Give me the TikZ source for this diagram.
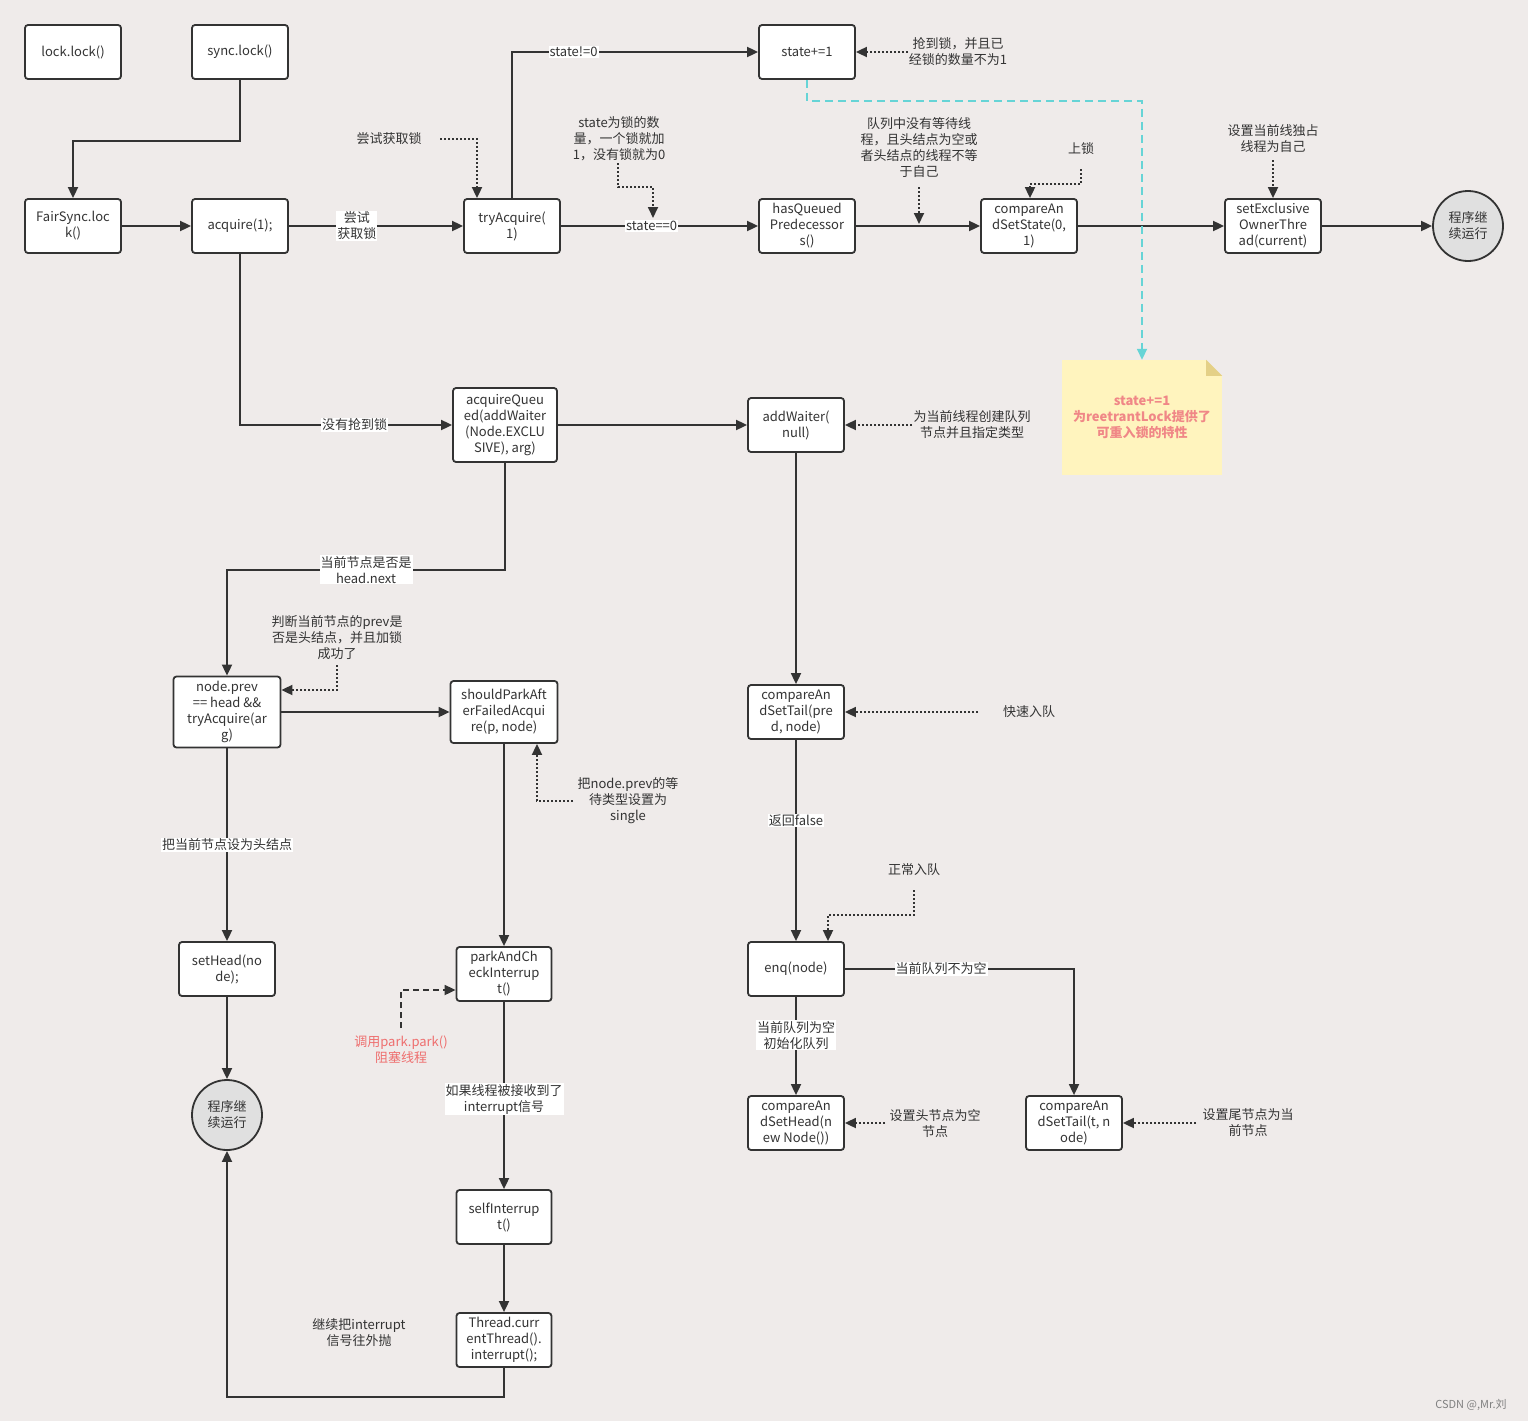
\documentclass[tikz,border=0pt]{standalone}
\usepackage{fontspec}
\setmainfont{Noto Sans CJK SC}
\usetikzlibrary{arrows.meta,calc}
\definecolor{bg}{RGB}{239,235,234}
\definecolor{linec}{RGB}{51,51,51}
\definecolor{txt}{RGB}{51,51,51}
\definecolor{cyanl}{RGB}{102,212,214}
\definecolor{notey}{RGB}{255,244,190}
\definecolor{notef}{RGB}{228,208,135}
\definecolor{pinkt}{RGB}{240,135,135}
\definecolor{redt}{RGB}{238,110,110}
\definecolor{circg}{RGB}{224,224,224}
\begin{document}
\begin{tikzpicture}[x=1pt,y=-1pt,
  every node/.style={font=\fontsize{13}{16}\selectfont, text=txt},
  box/.style={draw=linec, line width=1.8pt, rounded corners=3pt, fill=white, minimum width=96pt, minimum height=54pt, align=center, inner sep=1pt},
  circ/.style={draw=linec, line width=1.8pt, circle, fill=circg, minimum size=70pt, align=center, inner sep=0pt},
  arr/.style={draw=linec, line width=1.8pt, -{Triangle[length=11pt,width=10pt]}},
  dotarr/.style={draw=linec, line width=1.8pt, dash pattern=on 2pt off 2pt, -{Triangle[length=11pt,width=10pt]}},
  dasharr/.style={draw=linec, line width=1.8pt, dash pattern=on 6pt off 4pt, -{Triangle[length=11pt,width=10pt]}},
  lbl/.style={fill=white, inner sep=1pt, align=center},
  ann/.style={align=center, inner sep=1pt},
]
\fill[bg] (0,0) rectangle (1528,1421);
\useasboundingbox (0,0) rectangle (1528,1421);

% main nodes
\node[box] (lock) at (73,52) {lock.lock()};
\node[box] (sync) at (240,52) {sync.lock()};
\node[box] (fair) at (73,226) {FairSync.loc\\k()};
\node[box] (acq) at (240,226) {acquire(1);};
\node[box] (try) at (512,226) {tryAcquire(\\1)};
\node[box] (st1) at (807,52) {state+=1};
\node[box] (hqp) at (807,226) {hasQueued\\Predecessor\\s()};
\node[box] (cas) at (1029,226) {compareAn\\dSetState(0,\\1)};
\node[box] (seo) at (1273,226) {setExclusive\\OwnerThre\\ad(current)};
\node[circ] (run1) at (1468,226) {程序继\\续运行};
\node[box, minimum width=104pt, minimum height=74pt] (aq) at (505,425) {acquireQueu\\ed(addWaiter\\(Node.EXCLU\\SIVE), arg)};
\node[box] (aw) at (796,425) {addWaiter(\\null)};
\node[box, minimum width=107pt, minimum height=71pt] (np) at (227,712) {node.prev\\== head \&\&\\tryAcquire(ar\\g)};
\node[box, minimum width=107pt, minimum height=62pt] (spa) at (504,712) {shouldParkAft\\erFailedAcqui\\re(p, node)};
\node[box] (cat) at (796,712) {compareAn\\dSetTail(pre\\d, node)};
\node[box] (sh) at (227,969) {setHead(no\\de);};
\node[box, minimum width=95pt] (pci) at (504,974) {parkAndCh\\eckInterrup\\t()};
\node[box] (enq) at (796,969) {enq(node)};
\node[circ] (run2) at (227,1115) {程序继\\续运行};
\node[box] (cah) at (796,1123) {compareAn\\dSetHead(n\\ew Node())};
\node[box] (cat2) at (1074,1123) {compareAn\\dSetTail(t, n\\ode)};
\node[box, minimum width=95pt] (si) at (504,1217) {selfInterrup\\t()};
\node[box, minimum width=95pt] (th) at (504,1340) {Thread.curr\\entThread().\\interrupt();};

% note
\node[fill=notey, minimum width=160pt, minimum height=115pt, inner sep=0pt, align=center, text=pinkt, font=\bfseries\fontsize{13}{16}\selectfont] (note) at (1142,417.5) {state+=1\\为reetrantLock提供了\\可重入锁的特性};
\fill[bg] (note.north east) -- ++(-16,0) -- ++(16,16) -- cycle;
\fill[notef] ($(note.north east)+(-16,0)$) -- ++(16,16) -- ++(-16,0) -- cycle;

% connectors
\draw[arr] (sync.south) -- ++(0,61) -| (fair.north);
\draw[arr] (fair) -- (acq);
\draw[arr] (acq) -- node[lbl,pos=0.39]{尝试\\获取锁} (try);
\draw[arr] (try.north) |- node[lbl,pos=0.625]{state!=0} (st1.west);
\draw[arr] (try) -- node[lbl,pos=0.46]{state==0} (hqp);
\draw[arr] (hqp) -- (cas);
\draw[arr] (cas) -- (seo);
\draw[arr] (seo) -- (run1);
\draw[arr] (acq.south) |- node[lbl,pos=0.77]{没有抢到锁} (aq.west);
\draw[arr] (aq) -- (aw);
\draw[arr] (aq.south) -- ++(0,107) -| node[lbl,pos=0.25]{当前节点是否是\\head.next} (np.north);
\draw[arr] (np) -- (spa);
\draw[arr] (np) -- node[lbl,pos=0.5]{把当前节点设为头结点} (sh);
\draw[arr] (sh) -- (run2);
\draw[arr] (spa) -- (pci);
\draw[arr] (pci) -- node[lbl,pos=0.52]{如果线程被接收到了\\interrupt信号} (si);
\draw[arr] (si) -- (th);
\draw[arr] (th.south) -- ++(0,29) -| (run2.south);
\draw[arr] (aw) -- (cat);
\draw[arr] (cat) -- node[lbl,pos=0.4]{返回false} (enq);
\draw[arr] (enq.east) -| node[lbl,pos=0.21]{当前队列不为空} (cat2.north);
\draw[arr] (enq) -- node[lbl,pos=0.39]{当前队列为空\\初始化队列} (cah);
\draw[cyanl, line width=1.8pt, dash pattern=on 8pt off 5pt, -{Triangle[length=11pt,width=10pt]}] (st1.south) -- ++(0,21) -| (note.north);

% annotations
\node[ann] (a1) at (389,139) {尝试获取锁};
\coordinate (s1) at (440,139);
\draw[dotarr] (s1) -| ($(try.north)+(-35,0)$);

\node[ann] (a2) at (619,139) {state为锁的数\\量，一个锁就加\\1，没有锁就为0};
\coordinate (s2) at (618,163);
\coordinate (e2) at (653,218);
\draw[dotarr] (s2) -- ++(0,24) -| (e2);

\node[ann] (a3) at (958,52) {抢到锁，并且已\\经锁的数量不为1};
\coordinate (s3) at (908,52);
\draw[dotarr] (s3) -- (st1.east);

\node[ann] (a4) at (919,148) {队列中没有等待线\\程，且头结点为空或\\者头结点的线程不等\\于自己};
\coordinate (s4) at (919,187);
\coordinate (e4) at (919,224);
\draw[dotarr] (s4) -- (e4);

\node[ann] (a5) at (1081,149) {上锁};
\coordinate (s5) at (1081,169);
\draw[dotarr] (s5) -- ++(0,15) -| ($(cas.north)+(1,0)$);

\node[ann] (a6) at (1273,139) {设置当前线独占\\线程为自己};
\coordinate (s6) at (1273,160);
\draw[dotarr] (s6) -- (seo.north);

\node[ann] (a7) at (972,425) {为当前线程创建队列\\节点并且指定类型};
\coordinate (s7) at (912,425);
\draw[dotarr] (s7) -- (aw.east);

\node[ann] (a8) at (337,638) {判断当前节点的prev是\\否是头结点，并且加锁\\成功了};
\coordinate (s8) at (337,665);
\draw[dotarr] (s8) |- ($(np.east)+(0,-22)$);

\node[ann] (a9) at (628,801) {把node.prev的等\\待类型设置为\\single};
\coordinate (s9) at (573,801);
\draw[dotarr] (s9) -| ($(spa.south)+(33,0)$);

\node[ann] (a10) at (1029,712) {快速入队};
\coordinate (s10) at (978,712);
\draw[dotarr] (s10) -- (cat.east);

\node[ann] (a11) at (914,870) {正常入队};
\coordinate (s11) at (914,890);
\draw[dotarr] (s11) -- ++(0,25) -| ($(enq.north)+(32,0)$);

\node[ann, text=redt] (a12) at (401,1050) {调用park.park()\\阻塞线程};
\coordinate (s12) at (401,1028);
\draw[dasharr] (s12) |- ($(pci.west)+(0,16)$);

\node[ann] (a13) at (935,1123) {设置头节点为空\\节点};
\coordinate (s13) at (885,1123);
\draw[dotarr] (s13) -- (cah.east);

\node[ann] (a14) at (1248,1123) {设置尾节点为当\\前节点};
\coordinate (s14) at (1196,1123);
\draw[dotarr] (s14) -- (cat2.east);

\node[ann] (a15) at (359,1333) {继续把interrupt\\信号往外抛};

\node[font=\fontsize{11}{13}\selectfont, text=gray] (wm) at (1471,1405) {CSDN @,Mr.刘};
\end{tikzpicture}
\end{document}
